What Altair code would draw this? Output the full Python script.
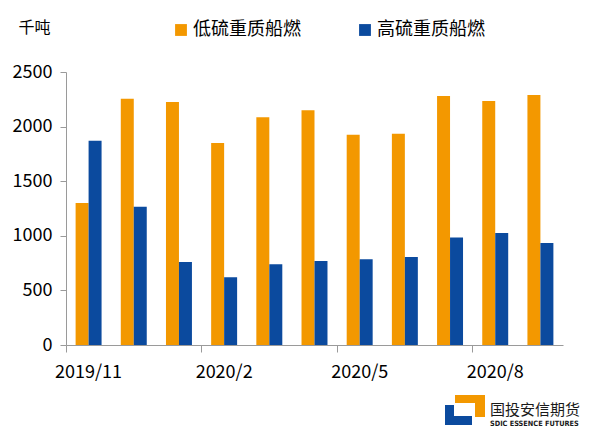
import pandas as pd
import altair as alt

months = ['2019/11', '2019/12', '2020/1', '2020/2', '2020/3', '2020/4',
          '2020/5', '2020/6', '2020/7', '2020/8', '2020/9']
low_sulfur = [1300, 2255, 2225, 1850, 2085, 2150, 1925, 1935, 2280, 2235, 2290]
high_sulfur = [1870, 1265, 760, 620, 740, 770, 785, 805, 985, 1025, 935]
series = ['低硫重质船燃', '高硫重质船燃']
colors = ['#F39800', '#0B4A9E']
shown_months = ['2019/11', '2020/2', '2020/5', '2020/8']

FONT = 'Noto Sans CJK SC'
W, H = 497, 273

df = pd.DataFrame({
    'month': months * 2,
    'type': [series[0]] * len(months) + [series[1]] * len(months),
    'value': low_sulfur + high_sulfur,
})

bars = alt.Chart(df).mark_bar().encode(
    x=alt.X('month:N', sort=months,
            scale=alt.Scale(paddingInner=0, paddingOuter=0),
            axis=alt.Axis(values=shown_months, bandPosition=0,
                          title=None, labelAngle=0, tickSize=7, labelPadding=11,
                          domainColor='#9a9a9a', tickColor='#9a9a9a',
                          labelFontSize=18, labelColor='#000000')),
    xOffset=alt.XOffset('type:N', sort=series,
                        scale=alt.Scale(paddingInner=0, paddingOuter=0.74)),
    y=alt.Y('value:Q',
            scale=alt.Scale(domain=[0, 2500], nice=False),
            axis=alt.Axis(values=[0, 500, 1000, 1500, 2000, 2500], grid=False,
                          format='d',
                          title='千吨', titleAngle=0, titleAlign='left',
                          titleBaseline='middle', titleX=-48, titleY=-45,
                          titleFontSize=16, titleFontWeight='normal',
                          titleColor='#000000', tickSize=6, labelPadding=8,
                          domainColor='#9a9a9a', tickColor='#9a9a9a',
                          labelFontSize=18, labelColor='#000000')),
    color=alt.Color('type:N', sort=series,
                    scale=alt.Scale(domain=series, range=colors),
                    legend=alt.Legend(title=None, orient='none', direction='horizontal',
                                      legendX=106, legendY=-51, symbolType='square',
                                      symbolSize=140, symbolStrokeWidth=0,
                                      labelFontSize=18, labelOffset=3,
                                      columnPadding=55, labelColor='#000000')),
)

# company logo, bottom right
logo_blue = pd.DataFrame({'x': [379, 379], 'x2': [388, 406],
                          'y': [333, 344], 'y2': [353, 353]})
logo_orange = pd.DataFrame({'x': [389, 409], 'x2': [419, 419],
                            'y': [323, 323], 'y2': [331, 345]})

blue_parts = [alt.Chart(pd.DataFrame({'a': [0]})).mark_rect(color='#0B4A9E').encode(
    x=alt.value(r.x), x2=alt.value(r.x2), y=alt.value(r.y), y2=alt.value(r.y2))
    for r in logo_blue.itertuples()]
orange_parts = [alt.Chart(pd.DataFrame({'a': [0]})).mark_rect(color='#F39800').encode(
    x=alt.value(r.x), x2=alt.value(r.x2), y=alt.value(r.y), y2=alt.value(r.y2))
    for r in logo_orange.itertuples()]

logo_cn = alt.Chart(pd.DataFrame({'t': ['国投安信期货']})).mark_text(
    font=FONT, fontSize=15, align='left', baseline='middle', color='#1a1a1a'
).encode(text='t:N', x=alt.value(424), y=alt.value(338))

logo_en = alt.Chart(pd.DataFrame({'t': ['SDIC ESSENCE FUTURES']})).mark_text(
    font='DejaVu Sans Condensed', fontSize=7.3, align='left', baseline='middle',
    color='#1a1a1a', fontWeight='bold'
).encode(text='t:N', x=alt.value(424), y=alt.value(352))

chart = alt.layer(bars, *blue_parts, *orange_parts, logo_cn, logo_en).properties(
    width=W, height=H,
    autosize=alt.AutoSizeParams(type='none'),
    padding={'left': 58, 'top': 64, 'right': 29, 'bottom': 88},
).configure(font=FONT).configure_view(stroke=None)

chart.save("out.html", embed_options={"renderer": "svg", "actions": False})
